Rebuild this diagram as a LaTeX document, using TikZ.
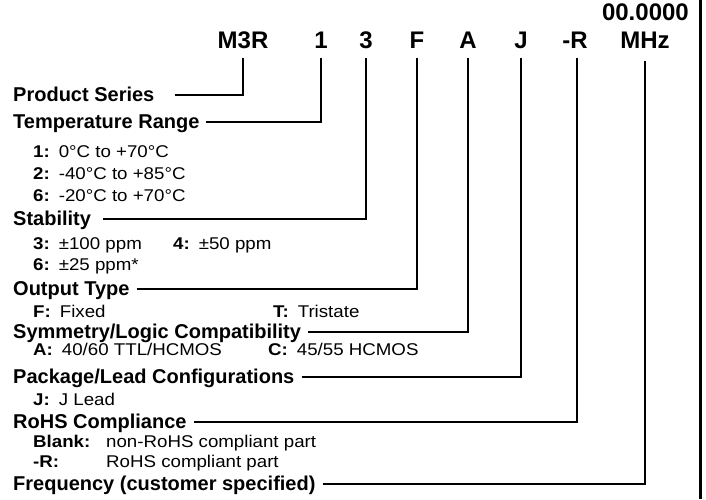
\documentclass[tikz,border=0pt]{standalone}
\usepackage{fontspec}
\setmainfont{Liberation Sans}
\newfontfamily\choicefont[FakeStretch=1.1]{Liberation Sans}
\usetikzlibrary{positioning}

% bold code letter followed by its meaning
\newcommand{\code}[1]{\textbf{#1:}\hspace{9pt}}

\begin{document}
\begin{tikzpicture}
    [x=1pt, y=-1pt, font=\fontsize{19}{22}\selectfont,
    % STYLES
    every node/.style={inner sep=0pt},
    % The digit style is used for the characters of the part number
    digit/.style={anchor=base, font=\fontsize{24}{28}\selectfont\bfseries},
    % The field style is used for the names of the fields
    field/.style={anchor=base west, text height=12pt, text depth=0pt, font=\fontsize{20}{24}\selectfont\bfseries},
    % The choice style is used for the values a field can take
    choice/.style={anchor=base west, font=\choicefont\fontsize{17}{20}\selectfont},
    lead/.style={line width=2.4pt},
    frame/.style={line width=3pt}]

    \useasboundingbox (0,0) rectangle (706,499);

    % Draw part number
    \node [digit, anchor=base east] (dval) at (689,20) {00.0000};
    \node [digit] (dm3r) at (243,48) {M3R};
    \node [digit] (d1) at (321,48) {1};
    \node [digit] (d3) at (366,48) {3};
    \node [digit] (dF) at (417,48) {F};
    \node [digit] (dA) at (468,48) {A};
    \node [digit] (dJ) at (521,48) {J};
    \node [digit] (dR) at (575,48) {-R};
    \node [digit] (dMHz) at (645,48) {MHz};

    \coordinate (m3r-foot) at ([yshift=-10pt]dm3r.south);
    \coordinate (1-foot) at ([yshift=-10pt]d1.south);
    \coordinate (3-foot) at ([yshift=-10pt]d3.south);
    \coordinate (F-foot) at ([yshift=-10pt]dF.south);
    \coordinate (A-foot) at ([yshift=-10pt]dA.south);
    \coordinate (J-foot) at ([yshift=-10pt]dJ.south);
    \coordinate (R-foot) at ([xshift=2pt, yshift=-10pt]dR.south);
    \coordinate (MHz-foot) at ([yshift=-13pt]dMHz.south);

    % Draw fields
    \node [field] (series) at (13,101) {Product Series};
    \node [field] (temp) at (13,128) {Temperature Range};
    \node [field] (stab) at (13,225) {Stability};
    \node [field] (otype) at (13,295) {Output Type};
    \node [field] (sym) at (13,338) {Symmetry/Logic Compatibility};
    \node [field] (pkg) at (13,383) {Package/Lead Configurations};
    \node [field] (rohs) at (13,428) {RoHS Compliance};
    \node [field] (freq) at (13,490) {Frequency (customer specified)};

    % Draw choices
    \node [choice] (t1) at (33,157) {\code{1}0°C to +70°C};
    \node [choice] (t2) at (33,179) {\code{2}-40°C to +85°C};
    \node [choice] (t6) at (33,201) {\code{6}-20°C to +70°C};
    \node [choice] (s3) at (33,249) {\code{3}±100 ppm};
    \node [choice] (s4) at (173,249) {\code{4}±50 ppm};
    \node [choice] (s6) at (33,270) {\code{6}±25 ppm*};
    \node [choice] (oF) at (33,317) {\code{F}Fixed};
    \node [choice] (oT) at (273,317) {\code{T}Tristate};
    \node [choice] (yA) at (33,355) {\code{A}40/60 TTL/HCMOS};
    \node [choice] (yC) at (268,355) {\code{C}45/55 HCMOS};
    \node [choice] (pJ) at (33,405) {\code{J}J Lead};
    \node [choice] (rB) at (33,447) {\makebox[73pt][l]{\textbf{Blank:}}non-RoHS compliant part};
    \node [choice] (rR) at (33,467) {\makebox[73pt][l]{\textbf{-R:}}RoHS compliant part};

    % Draw the leads between fields and digits
    \draw [lead] ([xshift=20pt]series.east) -| (m3r-foot);
    \draw [lead] ([xshift=6pt]temp.east) -| (1-foot);
    \draw [lead] ([xshift=12pt]stab.east) -| (3-foot);
    \draw [lead] ([xshift=7pt]otype.east) -| (F-foot);
    \draw [lead] ([xshift=7pt]sym.east) -| (A-foot);
    \draw [lead] ([xshift=7pt]pkg.east) -| (J-foot);
    \draw [lead] ([xshift=7pt]rohs.east) -| (R-foot);
    \draw [lead] ([xshift=7pt]freq.east) -| (MHz-foot);

    \draw [frame] (700,0) -- (700,499);
\end{tikzpicture}
\end{document}
